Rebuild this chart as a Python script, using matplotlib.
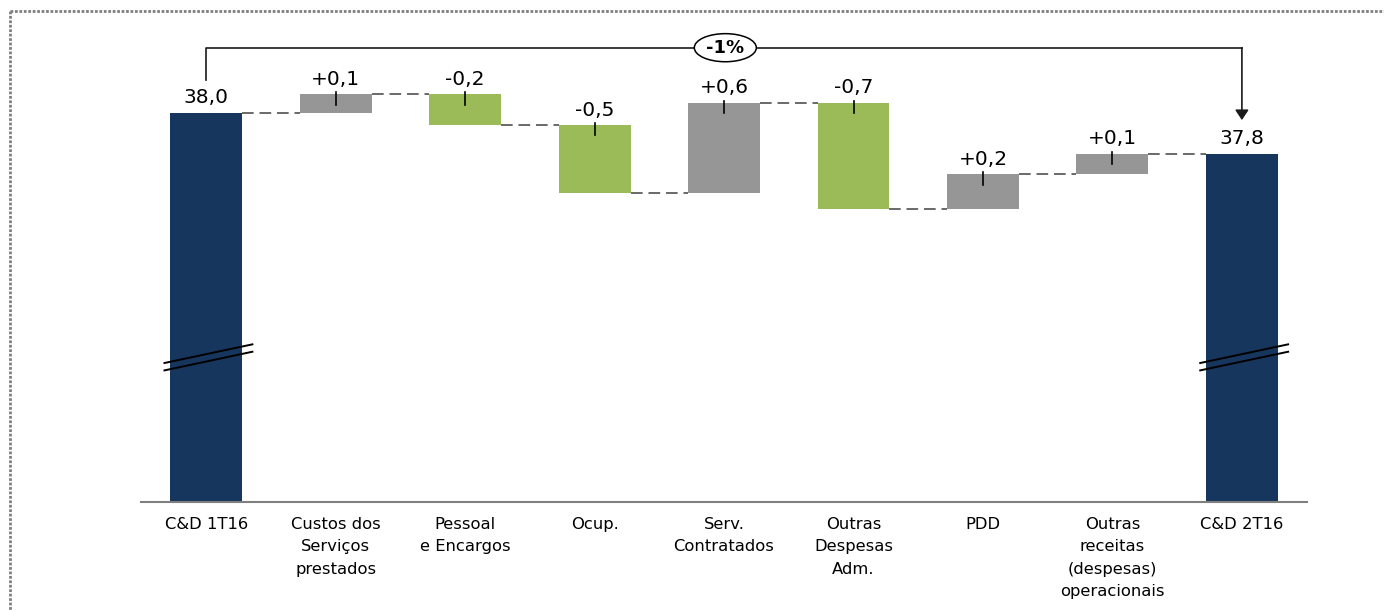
import matplotlib
matplotlib.use("Agg")
import matplotlib.pyplot as plt
from matplotlib.patches import Ellipse
from matplotlib.lines import Line2D

# data (R$ bi)
categories = ["C&D 1T16", "Custos dos\nServiços\nprestados", "Pessoal\ne Encargos", "Ocup.",
              "Serv.\nContratados", "Outras\nDespesas\nAdm.", "PDD",
              "Outras\nreceitas\n(despesas)\noperacionais", "C&D 2T16"]
start_value = 38.0
deltas = [0.09, -0.15, -0.33, 0.44, -0.52, 0.17, 0.10]
delta_labels = ["+0,1", "-0,2", "-0,5", "+0,6", "-0,7", "+0,2", "+0,1"]

navy = "#17365D"
gray = "#969696"
green = "#9BBB59"

# build the waterfall
end_value = start_value + sum(deltas)
x = list(range(len(categories)))
bottoms = [0]
heights = [start_value]
colors = [navy]
levels = [start_value]
running = start_value
for d in deltas:
    bottoms.append(min(running, running + d))
    heights.append(abs(d))
    colors.append(gray if d > 0 else green)
    running += d
    levels.append(running)
bottoms.append(0)
heights.append(end_value)
colors.append(navy)
tops = [b + h for b, h in zip(bottoms, heights)]

fig = plt.figure(figsize=(13.84, 6.11), dpi=100)
ax = fig.add_axes([0.1022, 0.1784, 0.8419, 0.7889])
ylow = 36.102
ax.set_ylim(ylow, ylow + 482 / 205)
ax.set_xlim(-0.5, 8.5)

w = 0.556
ax.bar(x, heights, bottom=bottoms, width=w, color=colors, zorder=2)

# dashed connectors
for i in range(len(x) - 1):
    ax.plot([x[i] + w / 2, x[i + 1] - w / 2], [levels[i], levels[i]],
            color="#505050", lw=1.2, dashes=(7, 3.5), zorder=1)

# value labels
for i in range(len(x)):
    if i == 0 or i == len(x) - 1:
        txt = f"{tops[i]:.1f}".replace(".", ",")
    else:
        txt = delta_labels[i - 1]
        ax.plot([x[i], x[i]], [tops[i] + 0.01, tops[i] - 0.05], color="black", lw=1.2, zorder=3)
    ax.annotate(txt, (x[i], tops[i]), xytext=(0, 10.8), textcoords="offset points",
                ha="center", va="center", fontsize=14.5, color="black")

# axis break marks on the total bars
for xi in (x[0], x[-1]):
    for dy in (0, -0.036):
        ax.plot([xi - 0.322, xi + 0.357], [36.78 + dy, 36.871 + dy], color="black", lw=1.4, zorder=3)

# bracket with percentage change
ybr = start_value + 0.318
ax.plot([x[0], x[0], x[-1]], [start_value + 0.161, ybr, ybr], color="#1a1a1a", lw=1.2, zorder=3)
ax.annotate("", xy=(x[-1], end_value + 0.165), xytext=(x[-1], ybr),
            arrowprops=dict(arrowstyle="-|>,head_length=0.3,head_width=0.2", color="#1a1a1a",
                            lw=1.2, mutation_scale=20, shrinkA=0, shrinkB=0), zorder=3)
pct = round((end_value / start_value - 1) * 100)
ax.add_patch(Ellipse((4.01, ybr), 0.479, 0.137, facecolor="white", edgecolor="black", lw=1.1, zorder=4))
ax.text(4.01, ybr, f"{pct}%", ha="center", va="center", fontsize=13, fontweight="bold", zorder=5)

# axes styling
for s in ("left", "right", "top"):
    ax.spines[s].set_visible(False)
ax.spines["bottom"].set_color("#7f7f7f")
ax.spines["bottom"].set_linewidth(1.5)
ax.set_yticks([])
ax.set_xticks(x)
ax.set_xticklabels(categories, fontsize=11.8, linespacing=1.6, multialignment="center")
ax.tick_params(axis="x", length=0, pad=11)

# dotted frame (top and left edge)
fx = 10 / 1384
fy = 1 - 11 / 611
fig.add_artist(Line2D([fx, 1], [fy, fy], transform=fig.transFigure, color="#808080",
                      lw=2, dashes=(1, 0.6)))
fig.add_artist(Line2D([fx, fx], [fy, 0], transform=fig.transFigure, color="#808080",
                      lw=2, dashes=(1, 0.6)))

fig.savefig("out.png", dpi=100)
